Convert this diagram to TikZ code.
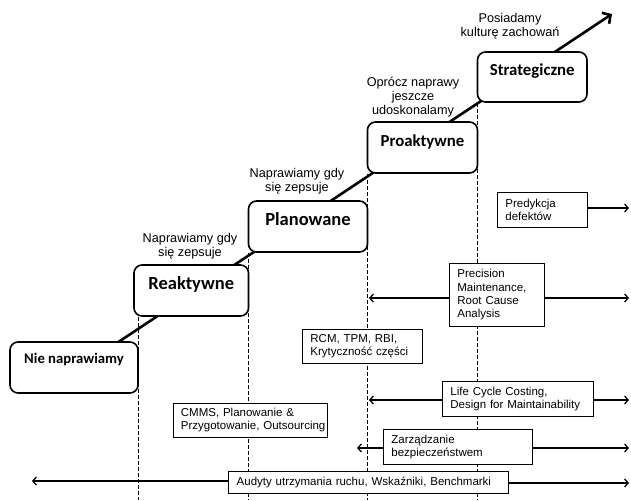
\documentclass[tikz,border=0pt]{standalone}
\usepackage{fontspec}
\setmainfont{Liberation Sans}
\newfontfamily\calib{Carlito}
\usetikzlibrary{arrows.meta}
\begin{document}
\begin{tikzpicture}[x=1pt,y=-1pt,
  stage/.style={draw, line width=1.6pt, rounded corners=8pt, fill=white,
    inner sep=0pt, minimum height=51pt, text height=12pt, text depth=14pt,
    font=\calib\bfseries},
  big/.style={font=\calib\bfseries\fontsize{18.5}{20}\selectfont},
  mid/.style={font=\calib\bfseries\fontsize{16.8}{19}\selectfont},
  info/.style={draw, line width=0.8pt, fill=white, anchor=north west,
    align=left, inner xsep=8pt, inner ysep=0pt,
    font=\fontsize{11.5}{13.4}\selectfont},
  note/.style={align=center, inner sep=0pt,
    font=\fontsize{12.7}{14.3}\selectfont},
  guide/.style={line width=0.9pt, dash pattern=on 4pt off 2pt},
  mainarr/.style={line width=2.6pt, -{Straight Barb[length=6pt,width=13pt]}},
  arr/.style={line width=1.3pt, -{Straight Barb[length=3.5pt,width=8pt]}}
]
\useasboundingbox (0,0) rectangle (631,500);

% guide coordinates
\coordinate (g1) at (138,500);
\coordinate (g2) at (248.5,500);
\coordinate (g3) at (367.5,500);
\coordinate (g4) at (477.5,500);

% main staircase arrow
\coordinate (ls) at (110,347.6);
\coordinate (tip) at (612,14);
\draw[mainarr] (ls) -- (tip);

% stage boxes
\node[stage, minimum width=128pt, text height=10pt, text depth=18pt,
  font=\calib\bfseries\fontsize{14.7}{16}\selectfont] (nie) at (74,367.5) {Nie naprawiamy};
\node[stage, big, minimum width=114.5pt] (reak) at (191.25,290.5) {Reaktywne};
\node[stage, big, minimum width=119pt] (plan) at (308,226.5) {Planowane};
\node[stage, mid, minimum width=110pt] (proa) at (422.5,147.5) {Proaktywne};
\node[stage, mid, minimum width=109.5pt, minimum height=50pt] (strat) at (532.25,77) {Strategiczne};

% dashed guides
\draw[guide] (reak.south -| g1) -- (g1);
\draw[guide] (plan.south -| g2) -- (g2);
\draw[guide] (proa.south -| g3) -- (g3);
\draw[guide] (strat.south -| g4) -- (g4);

% labels
\node[note] (l1) at (190,246) {Naprawiamy gdy\\się zepsuje};
\node[note] (l2) at (297,181) {Naprawiamy gdy\\się zepsuje};
\node[note] (l3) at (413,97) {Oprócz naprawy\\jeszcze\\udoskonalamy};
\node[note] (l4) at (510,26.5) {Posiadamy\\kulturę zachowań};

% info boxes
\node[info, minimum height=35pt, text width=74pt] (pred) at (497,192) {Predykcja\\defektów};
\node[info, minimum height=63pt, text width=79pt] (prec) at (449,263) {Precision\\Maintenance,\\Root Cause\\Analysis};
\node[info, minimum height=34pt, text width=104pt] (rcm) at (302,329) {RCM, TPM, RBI,\\\mbox{Krytyczność części}};
\node[info, minimum height=35pt, text width=135pt] (lcc) at (442,381) {Life Cycle Costing,\\\mbox{Design for Maintainability}};
\node[info, minimum height=35pt, text width=133pt] (zarz) at (383,429) {Zarządzanie\\bezpieczeństwem};
\node[info, minimum height=22pt, text width=264pt] (aud) at (228.3,471) {\mbox{Audyty utrzymania ruchu, Wskaźniki, Benchmarki}};
\node[info, minimum height=34pt, text width=138pt] (cmms) at (172.5,402.5) {CMMS, Planowanie \&\\\mbox{Przygotowanie, Outsourcing}};

% end points of arrows
\coordinate (r1) at (629,208);
\coordinate (r2) at (629,298);
\coordinate (r3) at (629,400);
\coordinate (r4) at (629,448);
\coordinate (r5) at (629,483);
\coordinate (q2) at (369,298);
\coordinate (q3) at (369,400);
\coordinate (q4) at (357,448);
\coordinate (q5) at (32,481);

\draw[arr] (pred.east |- r1) -- (r1);
\draw[arr] (prec.east |- r2) -- (r2);
\draw[arr] (prec.west |- q2) -- (q2);
\draw[arr] (lcc.east |- r3) -- (r3);
\draw[arr] (lcc.west |- q3) -- (q3);
\draw[arr] (zarz.east |- r4) -- (r4);
\draw[arr] (zarz.west |- q4) -- (q4);
\draw[arr] (aud.east |- r5) -- (r5);
\draw[arr] (aud.west |- q5) -- (q5);
\end{tikzpicture}
\end{document}
